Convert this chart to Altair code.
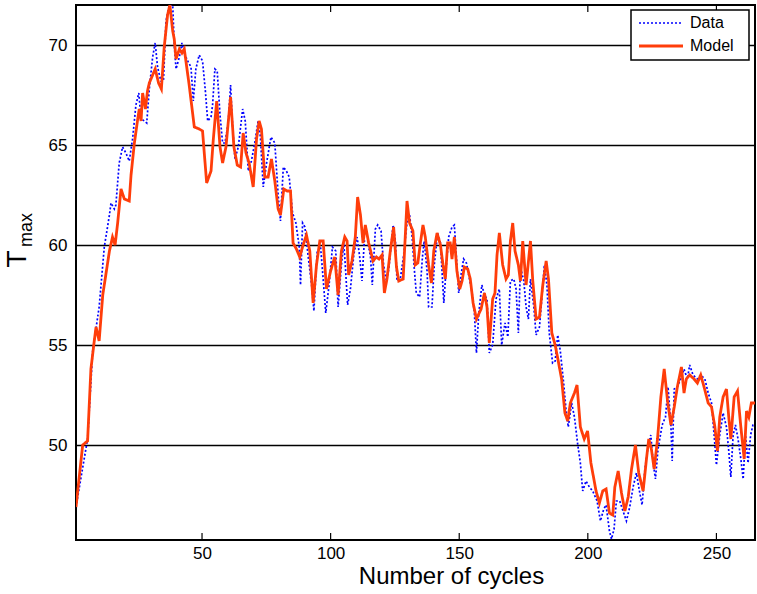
import altair as alt
import pandas as pd

# ---- data ----
model_x = [1, 3.6, 5.5, 6.8, 8.1, 8.8, 10, 11.4, 14, 15.2, 16.2, 17.2, 18.5, 19.8, 21.7, 22.4, 23.7, 25, 25.6, 26.3,
           26.9, 28, 28.8, 29.5, 30.8, 31.8, 33.1, 34.2, 35.3, 36.6, 37.5, 38.6, 39.2, 39.9, 41.2, 42.2, 43.1, 45, 47,
           48.9, 50.2, 51.8, 53.5, 54.4, 55.7, 57, 58, 59.3, 61.1, 62.4, 63.7, 65, 66, 67.1, 68.3, 69.9, 71.2, 72.2,
           73.1, 74.4, 75.7, 77, 78.3, 79.6, 80.5, 81.8, 83.1, 84.4, 85.4, 86.7, 88, 89.3, 90.6, 91.9, 93.2, 94.5,
           95.8, 97.1, 98.4, 100, 101.6, 102.9, 104.2, 105.5, 106.4, 107, 108.3, 109.6, 110.5, 111.6, 112.6, 113.5,
           114.8, 116.5, 117.8, 118.8, 120, 120.9, 121.9, 123.2, 124.5, 125.6, 126.5, 128.2, 129.7, 130.7, 132,
           132.9, 133.9, 134.9, 135.9, 136.8, 138.1, 139.2, 140.1, 141.4, 142.7, 143.7, 144.6, 145.5, 146.5, 147.2,
           148.1, 149.1, 150.2, 151.1, 152, 153.3, 154.3, 155.4, 156.7, 158.5, 159.8, 160.8, 161.7, 163, 163.9,
           164.7, 165.6, 166.9, 168.2, 169.1, 169.9, 170.8, 171.7, 173, 173.8, 174.7, 176, 177.7, 178.6, 179.9,
           181.2, 182.5, 183.8, 184.7, 186, 187.3, 188.5, 189.8, 191.1, 192.2, 193.2, 194.8, 195.8, 197.1, 198.6,
           199.9, 201.2, 203.2, 204.5, 205.8, 207.1, 208.4, 209.7, 210.5, 211.8, 213.1, 214.4, 215.7, 217, 218.5,
           219.8, 221.5, 222.8, 223.7, 224.7, 225.8, 227.1, 228.4, 229.7, 231, 232.3, 233.6, 234.8, 236.4, 237.4,
           238.3, 239.6, 241.3, 242.6, 243.9, 245.2, 246.8, 248.1, 249.4, 250.4, 251.3, 252.6, 253.9, 254.8, 255.6,
           256.9, 258.2, 259.5, 260.8, 261.7, 262.6, 263.6, 265]
model_y = [46.9, 50.0, 50.2, 53.8, 55.2, 55.9, 55.2, 57.5, 59.7, 60.4, 60.0, 61.1, 62.8, 62.3, 62.2, 63.5, 65.1, 66.3,
           66.8, 66.2, 67.6, 66.8, 67.7, 68.1, 68.5, 68.8, 68.1, 67.8, 69.9, 71.5, 72.0, 70.7, 70.3, 69.3, 69.8, 69.6,
           69.8, 68.0, 65.9, 65.8, 65.7, 63.1, 63.7, 65.3, 67.2, 64.9, 64.1, 64.9, 67.4, 64.9, 64.0, 63.9, 65.6, 64.6,
           64.1, 62.9, 65.3, 66.2, 65.8, 63.4, 63.4, 64.3, 63.2, 61.8, 61.5, 62.8, 62.7, 62.7, 60.1, 59.8, 59.4, 60.0,
           60.5, 59.7, 57.1, 59.0, 60.2, 60.2, 57.8, 58.7, 59.4, 57.5, 59.7, 60.4, 60.2, 58.5, 59.2, 60.4, 62.4, 61.5,
           60.1, 61.0, 60.1, 59.2, 59.4, 59.3, 59.5, 57.6, 58.3, 59.7, 60.9, 58.9, 58.2, 58.3, 62.2, 61.1, 60.7, 59.0,
           59.1, 60.1, 61.0, 60.4, 59.0, 58.1, 59.7, 60.6, 60.0, 59.0, 58.3, 60.1, 60.1, 59.3, 60.4, 58.7, 57.8, 58.2,
           58.9, 58.8, 58.3, 57.1, 56.3, 56.8, 57.6, 56.9, 55.1, 57.3, 57.6, 59.5, 60.6, 59.0, 58.3, 58.5, 60.2, 61.1,
           59.7, 59.0, 58.2, 60.2, 58.0, 60.2, 58.2, 56.3, 56.4, 58.0, 59.2, 58.3, 55.6, 55.0, 54.2, 53.3, 51.6, 51.2,
           52.1, 52.6, 53.0, 50.9, 50.3, 50.7, 49.1, 47.7, 47.1, 47.7, 47.8, 46.6, 46.5, 47.9, 48.7, 47.6, 46.7, 47.4,
           48.8, 50.0, 48.6, 47.7, 49.3, 50.3, 49.8, 48.8, 50.3, 52.4, 53.8, 52.2, 51.0, 51.9, 52.9, 53.9, 52.6, 53.3,
           53.5, 53.3, 53.1, 53.5, 52.9, 52.1, 51.9, 50.9, 49.7, 51.4, 52.4, 52.8, 51.4, 50.3, 52.4, 52.7, 50.9, 49.3,
           51.7, 51.4, 52.1, 52.1]

data_x = [1, 5.5, 7.5, 10, 12, 14, 14.6, 15.9, 16.5, 17.8, 19.1, 20.4, 21.7, 23, 24.3, 25.4, 26.3, 27.6, 28.5, 29.5,
          30.8, 31.8, 32.7, 34, 35, 36, 37.3, 38.6, 39.2, 39.9, 41.2, 42.2, 43.1, 44.4, 45.7, 46.6, 47.6, 48.9, 50.2,
          51.3, 52.2, 53.5, 54.1, 55, 55.9, 57, 58, 58.9, 60.2, 61.1, 61.9, 62.8, 64.1, 65.8, 66.8, 68, 69.2, 70.5,
          71.8, 72.7, 73.8, 75.1, 76.8, 78.3, 79.6, 80.5, 81.6, 82.8, 83.9, 85.2, 86.5, 87.8, 88.3, 89.1, 90, 91.3,
          92.6, 93.5, 94.8, 96.1, 97.1, 98.1, 99.4, 100.7, 102, 102.9, 104.2, 105.1, 105.7, 106.6, 107.7, 109, 110.3,
          111.3, 112.2, 113.1, 114.4, 115.5, 116.2, 117.4, 118.3, 119.6, 120.6, 121.7, 122.6, 124.3, 125.2, 125.8,
          127.1, 128.4, 129.7, 130.7, 131.7, 132.6, 133.3, 134.6, 135.7, 136.4, 137.5, 138.1, 139.4, 140.3, 141.6,
          142.7, 144, 145, 145.9, 147.2, 148.1, 148.9, 149.8, 150.7, 151.7, 152.8, 153.7, 155, 155.9, 156.7, 157.6,
          158.8, 159.8, 160.8, 161.7, 163, 164.3, 165.6, 166.5, 167.8, 168.9, 169.9, 171.2, 172.1, 173, 173.8, 175.1,
          176, 176.9, 177.7, 179, 179.9, 181.2, 182.1, 183.1, 184.1, 185, 186.3, 187.3, 188.3, 189.3, 190.6, 191.5,
          192.4, 193.7, 194.8, 196.1, 197.1, 198, 199.3, 200.6, 201.9, 203.6, 204.9, 206.2, 207.1, 208.4, 209.2,
          210.2, 211.1, 212.4, 213.7, 215, 216.3, 217.6, 218.9, 220.2, 221.1, 222.2, 223.5, 224.5, 225.4, 226.3,
          227.3, 228.9, 230.2, 231.2, 232.3, 232.8, 233.6, 234.8, 236.1, 237.4, 238.7, 239.6, 240.9, 242.6, 243.9,
          245.5, 246.8, 248.1, 249.1, 250, 251.3, 252.6, 253.9, 254.8, 255.6, 256.5, 257.4, 258.4, 259.5, 260.4,
          261.3, 262.3, 263.3, 264.2, 265]
data_y = [46.9, 50.3, 54.7, 56.9, 59.9, 61.5, 62.1, 61.8, 62.0, 64.1, 64.9, 64.6, 64.2, 65.3, 67.0, 67.6, 66.3, 66.2,
          66.1, 67.8, 69.4, 70.1, 68.9, 68.2, 68.2, 71.2, 72.0, 72.0, 70.0, 68.8, 69.4, 70.1, 69.6, 69.2, 68.9, 67.2,
          68.8, 69.5, 69.2, 67.7, 66.2, 66.4, 67.0, 68.8, 68.7, 66.5, 65.1, 65.1, 66.1, 68.0, 65.9, 64.3, 64.9, 66.8,
          66.2, 63.7, 64.2, 65.1, 66.2, 65.4, 62.9, 64.1, 65.4, 65.1, 62.5, 61.2, 63.9, 63.7, 63.4, 61.6, 61.1, 59.9,
          58.0, 61.1, 60.9, 59.4, 58.0, 56.7, 59.7, 59.9, 58.3, 56.6, 58.0, 59.9, 59.7, 56.9, 59.0, 60.1, 59.0, 57.0,
          57.8, 59.5, 60.4, 59.4, 58.2, 60.2, 60.2, 59.4, 58.0, 60.8, 61.0, 60.7, 59.0, 58.2, 58.8, 61.0, 60.2, 58.2,
          58.3, 59.5, 61.1, 61.5, 60.4, 58.7, 57.6, 57.4, 59.4, 60.2, 58.7, 56.9, 56.9, 59.0, 60.6, 60.1, 57.1, 59.0,
          60.4, 60.9, 61.0, 59.4, 57.6, 58.5, 59.3, 59.1, 58.5, 57.6, 56.6, 54.6, 56.6, 58.0, 57.5, 57.3, 54.6, 55.0,
          57.3, 57.8, 55.0, 56.1, 55.4, 58.2, 58.3, 57.8, 55.6, 58.9, 58.2, 56.9, 56.3, 58.3, 56.9, 55.5, 55.9, 57.3,
          59.0, 58.0, 55.6, 54.1, 54.2, 55.5, 54.7, 53.1, 51.8, 50.9, 52.1, 51.4, 50.0, 49.1, 47.7, 48.2, 47.9, 47.7,
          47.2, 46.2, 46.8, 47.0, 45.7, 45.3, 45.8, 47.2, 47.2, 46.7, 46.2, 46.9, 47.9, 48.6, 47.6, 47.0, 48.8, 50.0,
          50.5, 49.1, 48.3, 49.8, 51.0, 51.4, 52.9, 51.0, 49.2, 52.8, 52.9, 53.3, 53.8, 53.3, 54.0, 53.5, 53.3, 53.5,
          53.3, 52.6, 52.1, 50.5, 49.0, 50.5, 51.6, 50.9, 49.7, 48.4, 50.5, 51.0, 50.3, 49.3, 48.3, 50.5, 49.1, 50.5,
          51.0, 51.0]

series_names = ["Data", "Model"]
series_colors = ["#0000FF", "#FF3D0A"]
x_ticks = [50, 100, 150, 200, 250]
y_ticks = [50, 55, 60, 65, 70]
x_domain = [1, 265]
y_domain = [45.25, 72]

FONT = "Liberation Sans"
W, H = 679, 535

df = pd.concat([
    pd.DataFrame({"cycle": data_x, "T": data_y, "series": "Data"}),
    pd.DataFrame({"cycle": model_x, "T": model_y, "series": "Model"}),
])

xs = alt.Scale(domain=x_domain, nice=False, zero=False)
ys = alt.Scale(domain=y_domain, nice=False, zero=False)

lines = alt.Chart(df).mark_line(clip=True).encode(
    x=alt.X("cycle:Q", scale=xs, axis=alt.Axis(
        values=x_ticks, title="Number of cycles", grid=False, ticks=False, domain=False,
        labelFontSize=17, labelPadding=5, labelColor="black", labelFont=FONT,
        titleFontSize=24, titleFont=FONT, titleFontWeight="normal", titleColor="black", titlePadding=3,
        titleX=375, titleAlign="center")),
    y=alt.Y("T:Q", scale=ys, axis=alt.Axis(
        values=y_ticks, title=None, grid=True, gridColor="black", gridWidth=1.3, gridOpacity=1,
        ticks=False, domain=False, labelFontSize=17, labelPadding=9, labelColor="black", labelFont=FONT)),
    color=alt.Color("series:N", scale=alt.Scale(domain=series_names, range=series_colors), legend=None),
    strokeDash=alt.StrokeDash("series:N", scale=alt.Scale(domain=series_names, range=[[2, 2], [1, 0]]), legend=None),
    strokeWidth=alt.StrokeWidth("series:N", scale=alt.Scale(domain=series_names, range=[1.7, 2.8]), legend=None),
)

tick_df = pd.DataFrame({"t": x_ticks})
ticks_bottom = alt.Chart(tick_df).mark_rule(color="black", strokeWidth=1.2).encode(
    x=alt.X("t:Q", scale=xs), y=alt.value(H), y2=alt.value(H - 7))
ticks_top = alt.Chart(tick_df).mark_rule(color="black", strokeWidth=1.2).encode(
    x=alt.X("t:Q", scale=xs), y=alt.value(0), y2=alt.value(7))

# legend (drawn manually, MATLAB style)
leg_df = pd.DataFrame({"series": series_names})
lx0, lx1, ly0, ly1 = 555, 673, 5, 55
leg_box = alt.Chart(pd.DataFrame({"a": [0]})).mark_rect(
    fill="white", stroke="black", strokeWidth=1.5).encode(
    x=alt.value(lx0), x2=alt.value(lx1), y=alt.value(ly0), y2=alt.value(ly1))
leg_data_line = alt.Chart(leg_df[leg_df.series == "Data"]).mark_rule(
    color=series_colors[0], strokeWidth=1.7, strokeDash=[2, 2]).encode(
    x=alt.value(563), x2=alt.value(607), y=alt.value(18))
leg_model_line = alt.Chart(leg_df[leg_df.series == "Model"]).mark_rule(
    color=series_colors[1], strokeWidth=2.8).encode(
    x=alt.value(563), x2=alt.value(607), y=alt.value(41))
leg_text = alt.Chart(leg_df).transform_calculate(
    yy="datum.series == 'Data' ? 18 : 41").mark_text(
    align="left", baseline="middle", fontSize=16, font=FONT, color="black").encode(
    x=alt.value(614), y=alt.Y("yy:Q", scale=None), text="series:N")

# y-axis title T_max
ylab_T = alt.Chart(pd.DataFrame({"s": ["T"]})).mark_text(
    angle=270, align="center", baseline="middle", fontSize=28, font=FONT, color="black").encode(
    x=alt.value(-58), y=alt.value(254), text="s:N")
ylab_sub = alt.Chart(pd.DataFrame({"s": ["max"]})).mark_text(
    angle=270, align="center", baseline="middle", fontSize=18, font=FONT, color="black").encode(
    x=alt.value(-49), y=alt.value(225), text="s:N")

chart = alt.layer(
    lines, ticks_bottom, ticks_top, leg_box, leg_data_line, leg_model_line, leg_text, ylab_T, ylab_sub
).properties(
    width=W, height=H,
    autosize=alt.AutoSizeParams(type="none"),
    padding={"left": 76, "top": 5, "right": 2, "bottom": 54},
    background="white",
).configure_view(stroke="black", strokeWidth=2)

chart.save("out.html", embed_options={"renderer": "svg", "actions": False})
